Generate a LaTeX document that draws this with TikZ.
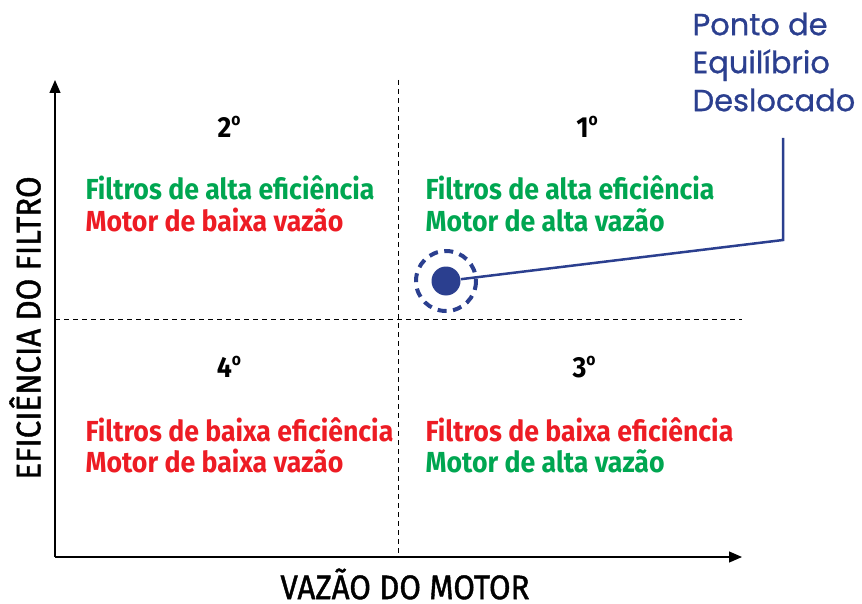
\documentclass[tikz,border=0pt]{standalone}
\usepackage{fontspec}
\setmainfont{Fira Sans}[FakeStretch=0.92]
\newfontfamily\titlefont{Poppins}[FakeBold=0.8]
\newfontfamily\axisfont{Fira Sans}[FakeStretch=0.92,FakeBold=1.2]
\usepackage{tikz}
\usetikzlibrary{arrows.meta,positioning}
\definecolor{mygreen}{RGB}{0,166,81}
\definecolor{myred}{RGB}{237,28,36}
\definecolor{myblue}{RGB}{43,63,143}
\tikzstyle{quadtext}=[anchor=west,inner sep=0pt,font=\fontsize{29}{32}\selectfont\bfseries,align=left]
\tikzstyle{quadnum}=[inner sep=0pt,font=\fontsize{29}{32}\selectfont\bfseries]
\tikzstyle{axislabel}=[inner sep=0pt,font=\axisfont\fontsize{34}{36}\selectfont]
\tikzstyle{guide}=[dashed,line width=1pt,dash pattern=on 5pt off 4pt]
\newcommand{\ordo}{\raisebox{0.42em}{\fontsize{17}{17}\selectfont o}}

\begin{document}
\begin{tikzpicture}[x=1pt,y=-1pt,line width=1.2pt]
\useasboundingbox (0,0) rectangle (862,604);
% axes
\coordinate (origin) at (55,557);
\coordinate (ytop) at (55,80);
\coordinate (xend) at (742,557);
\draw[-{Triangle[length=13pt,width=11pt]}] (origin) -- (ytop);
\draw[-{Triangle[length=13pt,width=11pt]}] (origin) -- (xend);
\coordinate (vtop) at (398,80);
\coordinate (vbot) at (398,557);
\coordinate (hleft) at (55,319);
\coordinate (hright) at (742,319);
\draw[guide] (vtop) -- (vbot);
\draw[guide] (hleft) -- (hright);
% axis labels
\draw (405,584) node [axislabel] (xlab) {VAZÃO DO MOTOR};
\draw (25,328) node [axislabel,rotate=90] (ylab) {EFICIÊNCIA DO FILTRO};
% quadrant numbers
\draw (229,127) node [quadnum] (q2) {2\ordo};
\draw (587,127) node [quadnum] (q1) {1\ordo};
\draw (229,367) node [quadnum] (q4) {4\ordo};
\draw (584,367) node [quadnum] (q3) {3\ordo};
% quadrant texts
\draw (85,188) node [quadtext,text=mygreen] (t2a) {Filtros de alta eficiência};
\draw (85,220) node [quadtext,text=myred] (t2b) {Motor de baixa vazão};
\draw (425,188) node [quadtext,text=mygreen] (t1a) {Filtros de alta eficiência};
\draw (425,220) node [quadtext,text=mygreen] (t1b) {Motor de alta vazão};
\draw (85,430) node [quadtext,text=myred] (t4a) {Filtros de baixa eficiência};
\draw (85,461) node [quadtext,text=myred] (t4b) {Motor de baixa vazão};
\draw (425,430) node [quadtext,text=myred] (t3a) {Filtros de baixa eficiência};
\draw (425,461) node [quadtext,text=mygreen] (t3b) {Motor de alta vazão};
% equilibrium point
\draw (446,281) node [circle,fill=myblue,minimum size=29pt,inner sep=0pt] (pt) {};
\draw[myblue,line width=4pt,dash pattern=on 9pt off 6.5pt] (pt.center) circle (30);
\coordinate (bend) at (783,240);
\coordinate (ltop) at (783,138);
\draw[myblue,line width=2.5pt] (pt) -- (bend) -- (ltop);
\draw (692,62) node [anchor=west,inner sep=0pt,align=left,text=myblue,font=\titlefont\fontsize{30.5}{38}\selectfont] (title) {Ponto de\\Equilíbrio\\Deslocado};
\end{tikzpicture}
\end{document}
